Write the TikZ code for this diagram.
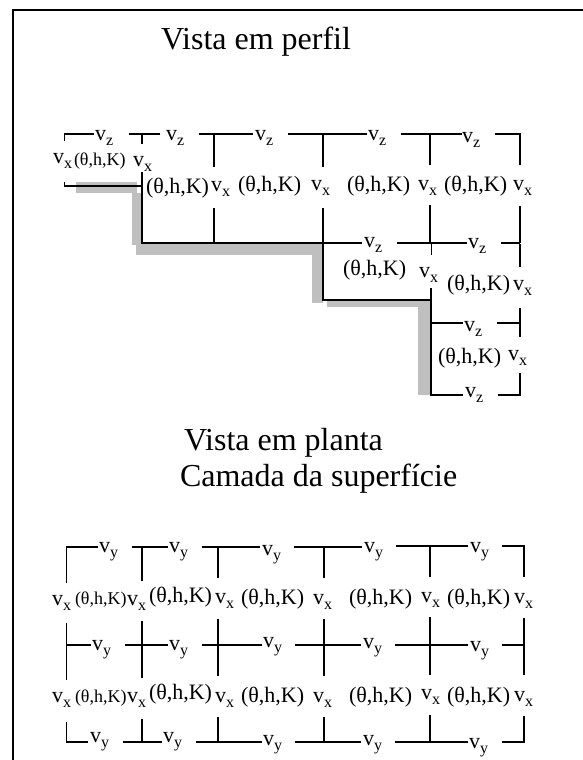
\documentclass[tikz,border=0pt]{standalone}
\usepackage{fontspec}
\setmainfont{Liberation Serif}
\tikzset{
  x=1pt,y=-1pt,
  wire/.style={line width=1.6pt,line cap=butt},
  heavy/.style={line width=2.6pt,line cap=butt},
  frameline/.style={line width=2pt},
  shade/.style={fill=black!25,draw=none},
  txt/.style={anchor=base west,inner sep=0pt,outer sep=0pt,font=\fontsize{22}{24}\selectfont},
  velo/.style={anchor=base west,inner sep=0pt,outer sep=0pt,font=\fontsize{22}{24}\selectfont},
  small/.style={anchor=base west,inner sep=0pt,outer sep=0pt,font=\fontsize{18}{20}\selectfont},
  title/.style={anchor=base west,inner sep=0pt,outer sep=0pt,font=\fontsize{32}{36}\selectfont}
}
\newcommand{\Vlab}[4]{\node[velo] (#1) at (#2,#3) {v\raisebox{-5pt}{\fontsize{16}{16}\selectfont #4}};}
\newcommand{\Tlab}[3]{\node[txt] (#1) at (#2,#3) {(θ,h,K)};}
\newcommand{\Slab}[3]{\node[small] (#1) at (#2,#3) {(θ,h,K)};}
\begin{document}
\begin{tikzpicture}
\useasboundingbox (0,0) rectangle (583,760);
\fill[white] (0,0) rectangle (583,760);
% frame
\draw[frameline] (13,760) -- (13,10) -- (583,10);
% gray channel
\fill[shade] (76,182) rectangle (137,193);
\fill[shade] (132,193) rectangle (142,245);
\fill[shade] (136,243) rectangle (324,255);
\fill[shade] (312,243) rectangle (323,303);
\fill[shade] (327,300) rectangle (431,307);
\fill[shade] (418,303) rectangle (431,395);
% profile wires
\draw[wire] (64.5,141) -- (64.5,134) -- (94,134);
\draw[wire] (129,134) -- (160,134) (141.7,134) -- (141.7,144);
\draw[wire] (199,134) -- (253,134) (214,134) -- (214,167);
\draw[wire] (288,134) -- (367,134) (323,134) -- (323,167);
\draw[wire] (401,134) -- (462,134) (430,134) -- (430,165);
\draw[wire] (495,134) -- (520,134) -- (520,165);
\draw[wire] (64.5,182) -- (64.5,186) -- (142,186);
\draw[wire] (142,172) -- (142,243) -- (323,243);
\draw[wire] (214,208) -- (214,243);
\draw[wire] (323,208) -- (323,300) -- (431,300);
\draw[heavy] (323,243) -- (362,243);
\draw[heavy] (397,243) -- (431,243);
\draw[wire] (431,243) -- (467,243);
\draw[heavy] (501,243) -- (520,243);
\draw[wire] (430,205) -- (430,243);
\draw[wire] (431.5,243) -- (431.5,255);
\draw[wire] (520,206) -- (520,243);
\draw[wire] (520,244) -- (520,267);
\draw[wire] (431,288) -- (431,395) -- (463,395);
\draw[heavy] (431,323) -- (463,323);
\draw[heavy] (497,323) -- (520,323);
\draw[wire] (520,308) -- (520,337);
\draw[wire] (498,395) -- (520,395) -- (520,373);
% plan wires
\draw[wire] (66.5,583) -- (66.5,547) -- (98,547);
\draw[wire] (132,547) -- (168,547) (142,547) -- (142,581);
\draw[wire] (202,547) -- (260,547) (218,547) -- (218,578);
\draw[wire] (294,547) -- (362,547) (324,547) -- (324,578);
\draw[wire] (396,546) -- (468,546) (430,546) -- (430,577);
\draw[wire] (502,546) -- (524,546) -- (524,577);
\draw[wire] (66.5,623) -- (66.5,680);
\draw[wire] (142,621) -- (142,678);
\draw[wire] (218,619) -- (218,676);
\draw[wire] (324,619) -- (324,676);
\draw[wire] (430,617) -- (430,675);
\draw[wire] (524,618) -- (524,675);
\draw[heavy] (66.5,645) -- (91,645);
\draw[heavy] (125,645) -- (168,645);
\draw[heavy] (202,645) -- (218,645);
\draw[wire] (218,645) -- (262,645);
\draw[wire] (295,645) -- (361,645);
\draw[wire] (395,645) -- (468,645);
\draw[wire] (502,645) -- (524,645);
\draw[wire] (66.5,722) -- (66.5,742) -- (88,742);
\draw[wire] (123,742) -- (162,742) (142,719) -- (142,742);
\draw[wire] (196,742) -- (262,742) (218,717) -- (218,742);
\draw[wire] (295,742) -- (361,742) (324,717) -- (324,742);
\draw[wire] (395,742) -- (468,742) (430,715) -- (430,742);
\draw[wire] (502,742) -- (524,742) -- (524,716);
% titles
\node[title] (t1) at (161,50) {Vista em perfil};
\node[title] (t2) at (184,450) {Vista em planta};
\node[title] (t3) at (180,486) {Camada da superfície};
% profile labels
\Vlab{a1}{95}{140}{z}\Vlab{a2}{166}{140}{z}\Vlab{a3}{255}{140}{z}\Vlab{a4}{368}{140}{z}\Vlab{a5}{462}{142}{z}
\Vlab{b1}{53}{163}{x}\Slab{b2}{74}{165}\Vlab{b3}{133}{166}{x}
\Tlab{c1}{146}{193}\Vlab{c2}{211}{191}{x}\Tlab{c3}{238}{191}\Vlab{c4}{311}{190}{x}\Tlab{c5}{347}{191}\Vlab{c6}{418}{190}{x}\Tlab{c7}{444}{191}\Vlab{c8}{513}{190}{x}
\Vlab{d1}{364}{247}{z}\Vlab{d2}{468}{248}{z}
\Tlab{d3}{343}{275}\Vlab{d4}{419}{277}{x}\Tlab{d5}{447}{290}\Vlab{d6}{513}{290}{x}
\Vlab{e1}{464}{331}{z}\Tlab{e2}{438}{363}\Vlab{e3}{508}{360}{x}\Vlab{e4}{465}{397}{z}
% plan labels
\Vlab{f1}{99}{552}{y}\Vlab{f2}{169}{552}{y}\Vlab{f3}{262}{555}{y}\Vlab{f4}{364}{552}{y}\Vlab{f5}{470}{552}{y}
\Vlab{g1}{52}{605}{x}\Slab{g2}{75}{604}\Vlab{g3}{127}{605}{x}\Tlab{g4}{149}{602}\Vlab{g5}{215}{603}{x}\Tlab{g6}{241}{604}\Vlab{g7}{313}{604}{x}\Tlab{g8}{349}{604}\Vlab{g9}{421}{602}{x}\Tlab{g10}{447}{604}\Vlab{g11}{514}{603}{x}
\Vlab{h1}{92}{650}{y}\Vlab{h2}{169}{650}{y}\Vlab{h3}{263}{647}{y}\Vlab{h4}{363}{648}{y}\Vlab{h5}{470}{651}{y}
\Vlab{i1}{52}{702}{x}\Slab{i2}{75}{702}\Vlab{i3}{127}{702}{x}\Tlab{i4}{149}{699}\Vlab{i5}{215}{702}{x}\Tlab{i6}{241}{702}\Vlab{i7}{313}{702}{x}\Tlab{i8}{349}{702}\Vlab{i9}{421}{699}{x}\Tlab{i10}{447}{702}\Vlab{i11}{514}{701}{x}
\Vlab{j1}{90}{742}{y}\Vlab{j2}{163}{742}{y}\Vlab{j3}{263}{745}{y}\Vlab{j4}{363}{745}{y}\Vlab{j5}{469}{748}{y}
\end{tikzpicture}
\end{document}
